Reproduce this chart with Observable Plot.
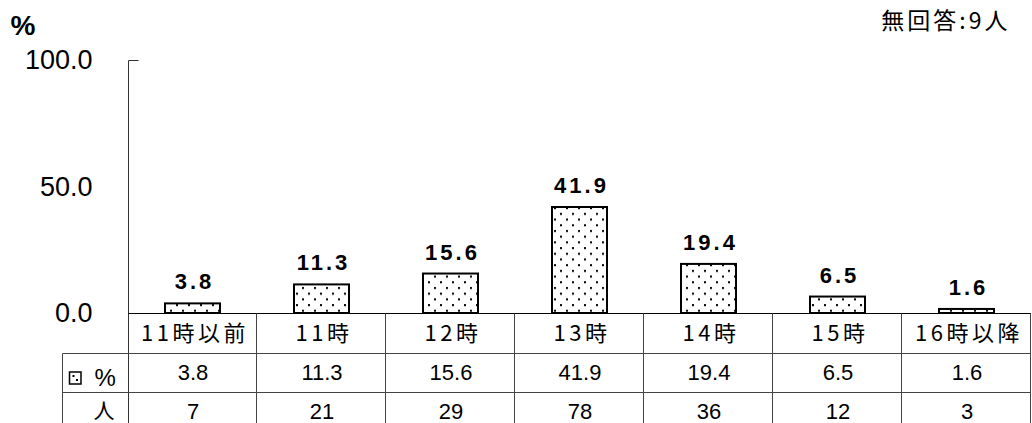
<!DOCTYPE html>
<html><head><meta charset="utf-8">
<script src="https://cdn.jsdelivr.net/npm/d3@7"></script>
<script src="https://cdn.jsdelivr.net/npm/@observablehq/plot@0.6"></script>
<style>body{margin:0;background:#fff}</style>
</head><body><div id="chart"></div>
<script>
const categories = ["11時以前","11時","12時","13時","14時","15時","16時以降"];
const percents = [3.8, 11.3, 15.6, 41.9, 19.4, 6.5, 1.6];
const counts = [7, 21, 29, 78, 36, 12, 3];
const yTicks = [0, 50, 100];
const unitLabel = "%";
const noAnswerNote = "無回答:9人";
const rowHeaders = ["%", "人"];

const data = categories.map((c, i) => ({cat: c, pct: percents[i], n: counts[i]}));
const JP = '"Noto Sans CJK JP", "Noto Sans", sans-serif';
const LAT = '"Liberation Sans", Arial, sans-serif';

function tableMark(index, scales, values, dims) {
  const g = d3.create("svg:g");
  const defs = g.append("defs");
  const pw = 12, ph = 11.4;
  const pat = defs.append("pattern").attr("id", "dots").attr("patternUnits", "userSpaceOnUse")
    .attr("width", pw).attr("height", ph);
  pat.append("rect").attr("width", pw).attr("height", ph).attr("fill", "#fff");
  pat.append("rect").attr("x", 2).attr("y", 2).attr("width", 2).attr("height", 2).attr("fill", "#000");
  pat.append("rect").attr("x", 8).attr("y", 7.7).attr("width", 2).attr("height", 2).attr("fill", "#000");
  const x = scales.x, y = scales.y;
  const y0 = Math.round(y(0)) + 0.5, yTop = Math.round(y(100)) + 0.5;
  const left = dims.marginLeft + 0.5, right = dims.width - dims.marginRight;
  const bottom = dims.height;
  const bw = (dims.width - dims.marginLeft - dims.marginRight) / categories.length;
  const row1 = y0 + 40, row2 = y0 + 79;
  const colLeft = left - 66;
  const line = (x1, y1, x2, y2, c = "#444", w = 1) => g.append("line")
    .attr("x1", x1).attr("y1", y1).attr("x2", x2).attr("y2", y2)
    .attr("stroke", c).attr("stroke-width", w);
  line(left, yTop, left, bottom, "#333");
  line(left, yTop, left + 10, yTop, "#333");
  line(left, y0, right, y0, "#000");
  categories.forEach(c => {
    const xs = Math.round(x(c) + bw) - 0.5;
    line(xs, y0, xs, bottom);
  });
  line(colLeft, row1, right, row1);
  line(colLeft, row2, right, row2);
  line(colLeft, row1, colLeft, bottom);
  g.append("rect").attr("x", colLeft + 7).attr("y", row1 + 18.5).attr("width", 11.5).attr("height", 12)
    .attr("fill", "#fff").attr("stroke", "#000").attr("stroke-width", 1.5);
  g.append("rect").attr("x", colLeft + 10).attr("y", row1 + 21.5).attr("width", 2).attr("height", 2).attr("fill", "#000");
  g.append("rect").attr("x", colLeft + 13.5).attr("y", row1 + 25.5).attr("width", 2).attr("height", 2).attr("fill", "#000");
  return g.node();
}

const plot = Plot.plot({
  width: 1032, height: 423,
  marginLeft: 128, marginRight: 1, marginTop: 60, marginBottom: 110,
  style: {fontFamily: JP, background: "#fff", color: "#000", overflow: "visible"},
  x: {domain: categories, padding: 0, axis: null},
  y: {domain: [0, 100], axis: null},
  marks: [
    tableMark,
    Plot.barY(data, {x: "cat", y: "pct", fill: "url(#dots)", stroke: "#000", strokeWidth: 2, insetLeft: 37, insetRight: 37}),
    Plot.axisY(yTicks, {tickSize: 0, tickPadding: 36, tickFormat: d => d.toFixed(1), fontSize: 27, fontFamily: LAT, label: null}),
    Plot.text(data, {x: "cat", y: "pct", text: d => d.pct.toFixed(1), dy: -21.5, dx: 1.5, fontSize: 22, fontWeight: "bold", fontFamily: LAT}),
    Plot.text(data, {x: "cat", y: () => 0, text: "cat", dy: 20.5, dx: 2, fontSize: 22}),
    Plot.text(data, {x: "cat", y: () => 0, text: d => d.pct.toFixed(1), dy: 59.5, fontSize: 22, fontFamily: LAT}),
    Plot.text(data, {x: "cat", y: () => 0, text: d => String(d.n), dy: 98, fontSize: 22, fontFamily: LAT}),
    Plot.text([rowHeaders[0]], {frameAnchor: "bottom-left", text: d => d, dx: -34, dy: 65, textAnchor: "start", lineAnchor: "middle", fontSize: 24, fontFamily: LAT}),
    Plot.text([rowHeaders[1]], {frameAnchor: "bottom-left", text: d => d, dx: -14, dy: 98, textAnchor: "end", lineAnchor: "middle", fontSize: 21}),
    Plot.text([unitLabel], {frameAnchor: "top-left", text: d => d, dx: -118, dy: -34.5, textAnchor: "start", lineAnchor: "middle", fontSize: 28, fontWeight: "bold", fontFamily: LAT}),
    Plot.text([noAnswerNote], {frameAnchor: "top-right", text: d => d, dx: -21, dy: -39, textAnchor: "end", lineAnchor: "middle", fontSize: 23})
  ]
});
const groups = plot.querySelectorAll('g[aria-label="text"]');
const spacing = [3, 3.5, 0, 0, 0, 0, 0, 3];
groups.forEach((g, i) => { if (spacing[i]) g.setAttribute("letter-spacing", spacing[i]); });
document.getElementById("chart").appendChild(plot);
</script>
</body></html>
